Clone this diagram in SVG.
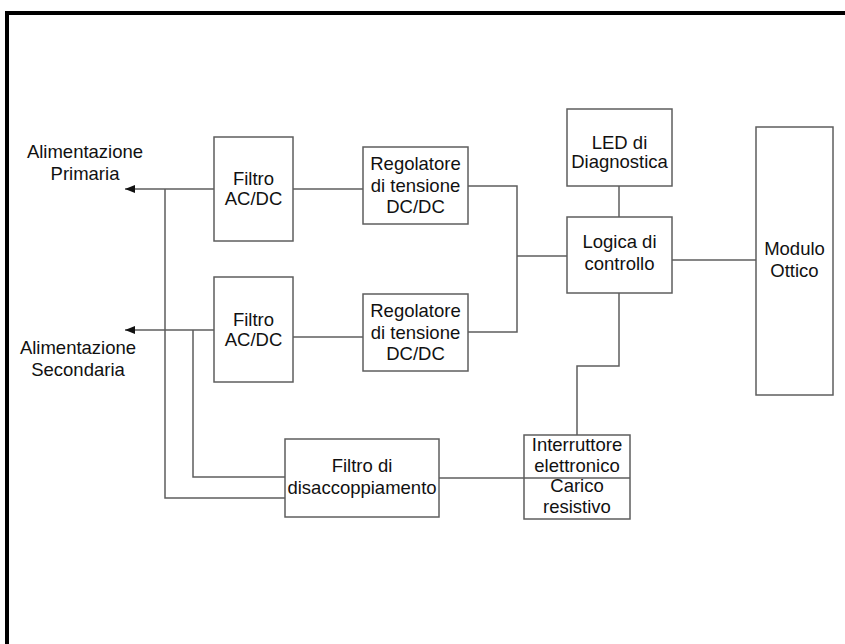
<svg xmlns="http://www.w3.org/2000/svg" width="845" height="644" viewBox="0 0 845 644">
<defs>
<style>
.box{fill:#fff;stroke:#5e5e5e;stroke-width:1.5}
.ln{fill:none;stroke:#5e5e5e;stroke-width:1.5}
text{font-family:"Liberation Sans",Arial,sans-serif;font-size:18.5px;fill:#111;text-anchor:middle}
</style>
<marker id="arr" viewBox="0 0 10 8" refX="10" refY="4" markerWidth="10" markerHeight="8" markerUnits="userSpaceOnUse" orient="auto">
<path d="M0,0 L10,4 L0,8 z" fill="#111"/>
</marker>
</defs>
<rect x="0" y="0" width="845" height="644" fill="#fff"/>
<rect x="7" y="13" width="880" height="680" fill="none" stroke="#000" stroke-width="4"/>

<g id="connectors">
<path class="ln" d="M214 189 H125" marker-end="url(#arr)"/>
<path class="ln" d="M214 330 H125" marker-end="url(#arr)"/>
<path class="ln" d="M165 189 V498 H285"/>
<path class="ln" d="M193 330 V477 H285"/>
<path class="ln" d="M293 189 H363"/>
<path class="ln" d="M293 337 H363"/>
<path class="ln" d="M468 186 H517 V332 H468"/>
<path class="ln" d="M517 256 H567"/>
<path class="ln" d="M619 186 V217"/>
<path class="ln" d="M672 260 H756"/>
<path class="ln" d="M619 293 V366 H577 V435"/>
<path class="ln" d="M439 478 H524"/>
</g>

<g id="label-primaria">
<text x="85" y="158">Alimentazione</text>
<text x="85" y="180">Primaria</text>
</g>
<g id="label-secondaria">
<text x="78" y="354">Alimentazione</text>
<text x="78" y="376">Secondaria</text>
</g>

<g id="filtro1">
<rect class="box" x="214" y="137" width="79" height="104"/>
<text x="253.5" y="185">Filtro</text>
<text x="253.5" y="205">AC/DC</text>
</g>
<g id="filtro2">
<rect class="box" x="214" y="277" width="79" height="105"/>
<text x="253.5" y="326">Filtro</text>
<text x="253.5" y="346">AC/DC</text>
</g>
<g id="regolatore1">
<rect class="box" x="363" y="147" width="105" height="77"/>
<text x="415.5" y="170">Regolatore</text>
<text x="415.5" y="192">di tensione</text>
<text x="415.5" y="213">DC/DC</text>
</g>
<g id="regolatore2">
<rect class="box" x="363" y="294" width="105" height="77"/>
<text x="415.5" y="317">Regolatore</text>
<text x="415.5" y="339">di tensione</text>
<text x="415.5" y="360">DC/DC</text>
</g>
<g id="led">
<rect class="box" x="567" y="109" width="105" height="77"/>
<text x="619.5" y="149">LED di</text>
<text x="619.5" y="168">Diagnostica</text>
</g>
<g id="logica">
<rect class="box" x="567" y="217" width="105" height="76"/>
<text x="619.5" y="248">Logica di</text>
<text x="619.5" y="270">controllo</text>
</g>
<g id="modulo">
<rect class="box" x="756" y="127" width="77" height="268"/>
<text x="794.5" y="255">Modulo</text>
<text x="794.5" y="277">Ottico</text>
</g>
<g id="filtro-disaccoppiamento">
<rect class="box" x="285" y="439" width="154" height="78"/>
<text x="362" y="472">Filtro di</text>
<text x="362" y="494">disaccoppiamento</text>
</g>
<g id="interruttore-carico">
<rect class="box" x="524" y="435" width="106" height="84"/>
<path class="ln" d="M524 478 H630"/>
<text x="577" y="451">Interruttore</text>
<text x="577" y="472">elettronico</text>
<text x="577" y="492">Carico</text>
<text x="577" y="513">resistivo</text>
</g>
</svg>
